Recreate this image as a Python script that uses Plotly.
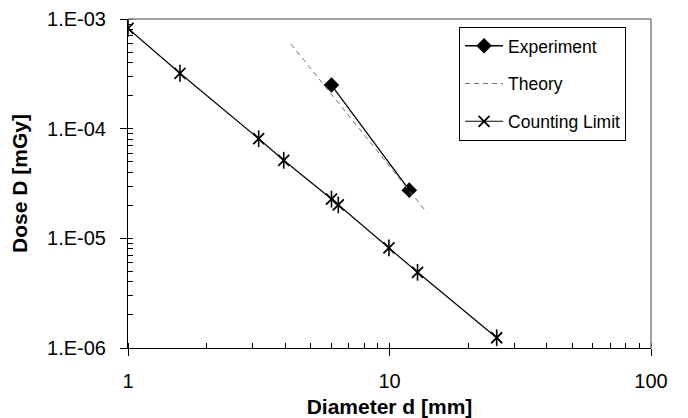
import plotly.graph_objects as go

# Data
exp_d = [6.0, 11.9]
exp_D = [2.5e-4, 2.75e-5]

theory_d = [4.2, 13.9]
theory_D = [5.9e-4, 1.72e-5]

count_d = [1.0, 1.58, 3.16, 3.94, 6.0, 6.37, 9.95, 12.8, 25.7]
count_D = [8.2e-4, 3.2e-4, 8.1e-5, 5.15e-5, 2.28e-5, 2.02e-5, 8.2e-6, 4.9e-6, 1.24e-6]

x_tickvals = [1, 10, 100]
x_ticktext = ["1", "10", "100"]
y_tickvals = [1e-6, 1e-5, 1e-4, 1e-3]
y_ticktext = ["1.E-06", "1.E-05", "1.E-04", "1.E-03"]

FONT = "Liberation Sans, Arial, sans-serif"

fig = go.Figure()

fig.add_trace(go.Scatter(
    x=exp_d, y=exp_D, name="Experiment", mode="lines+markers",
    line=dict(color="black", width=1.3),
    marker=dict(symbol="diamond", size=12, color="black"),
    legendgroup="a",
))
fig.add_trace(go.Scatter(
    x=theory_d, y=theory_D, name="Theory", mode="lines",
    line=dict(color="#707070", width=1, dash="5px,4px"),
    legendgroup="b",
))
fig.add_trace(go.Scatter(
    x=count_d, y=count_D, name="Counting Limit", mode="lines+markers",
    line=dict(color="black", width=1.2),
    marker=dict(symbol="x-thin-open", size=11, color="black",
                line=dict(color="black", width=1.8)),
    legendgroup="c",
))
fig.add_trace(go.Scatter(
    x=count_d, y=count_D, mode="markers", showlegend=False,
    marker=dict(symbol="line-ns-open", size=12, color="black",
                line=dict(color="black", width=1.6)),
    legendgroup="c", hoverinfo="skip",
))

# page body has an 8px default margin, so the figure is 8px smaller
fig.update_layout(
    width=680, height=410,
    margin=dict(l=120, r=37, t=11, b=70),
    paper_bgcolor="white", plot_bgcolor="white",
    font=dict(family=FONT, color="black"),
    showlegend=True,
    legend=dict(
        x=0.633, y=0.976, xanchor="left", yanchor="top",
        bgcolor="white", bordercolor="black", borderwidth=1,
        font=dict(size=17.5, family=FONT),
        traceorder="grouped", tracegroupgap=12,
        itemwidth=38,
    ),
    shapes=[
        dict(type="line", xref="paper", yref="paper", x0=0, x1=1, y0=1, y1=1,
             line=dict(color="#808080", width=1.5)),
        dict(type="line", xref="paper", yref="paper", x0=1, x1=1, y0=0, y1=1,
             line=dict(color="#808080", width=1.5)),
    ],
)

fig.update_xaxes(
    type="log", range=[0, 2], automargin=False,
    tickvals=x_tickvals, ticktext=x_ticktext,
    ticks="outside", ticklen=7, tickcolor="black",
    minor=dict(ticks="inside", ticklen=5, tickcolor="black", dtick="D1", showgrid=False),
    showline=True, linecolor="black", linewidth=1,
    showgrid=False, zeroline=False,
    tickfont=dict(size=20, family=FONT),
    ticklabelstandoff=8,
    title=dict(text="<b>Diameter d [mm]</b>", font=dict(size=21, family=FONT)),
)
fig.update_yaxes(
    type="log", range=[-6, -3], automargin=False,
    tickvals=y_tickvals, ticktext=y_ticktext,
    ticks="outside", ticklen=7, tickcolor="black",
    minor=dict(ticks="inside", ticklen=5, tickcolor="black", dtick="D1", showgrid=False),
    showline=True, linecolor="black", linewidth=1,
    showgrid=False, zeroline=False,
    tickfont=dict(size=20, family=FONT),
    ticklabelstandoff=10,
    title=dict(text="<b>Dose D [mGy]</b>", font=dict(size=21, family=FONT)),
)

fig.write_html("out.html")
